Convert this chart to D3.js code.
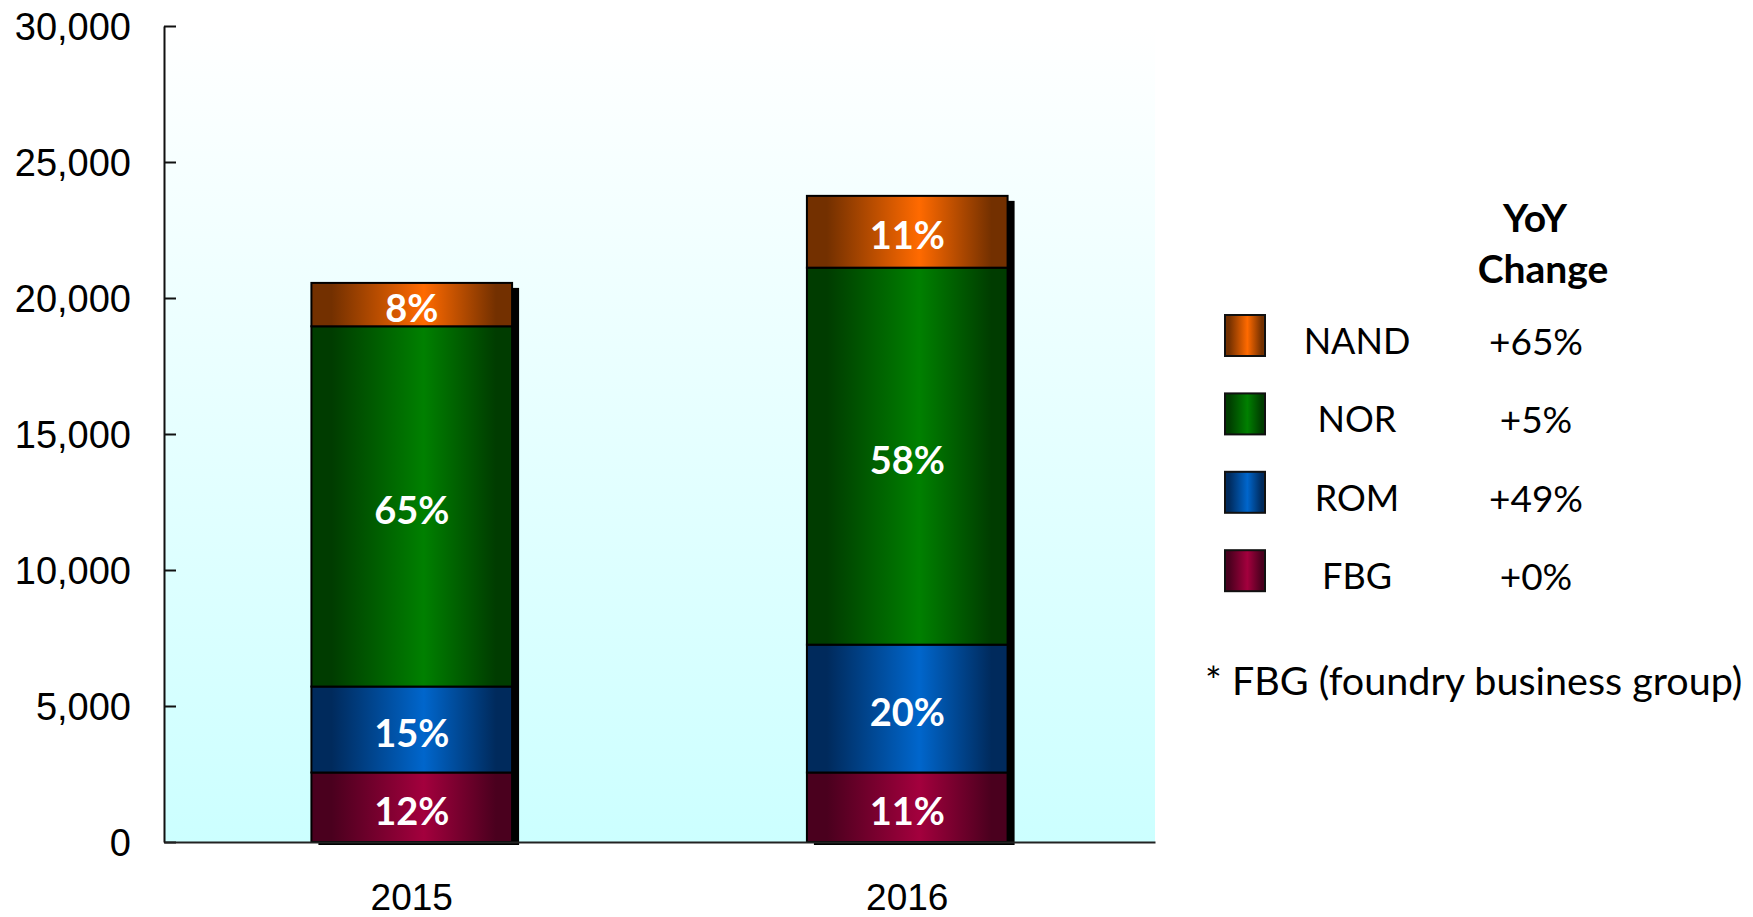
<!DOCTYPE html>
<html>
<head>
<meta charset="utf-8">
<script src="https://cdn.jsdelivr.net/npm/d3@7"></script>
<style>
  body { margin: 0; background: #fff; }
  svg { display: block; }
</style>
</head>
<body>
<svg></svg>
<script>
const width = 1753;
const height = 917;

const years = ["2015", "2016"];
const segments = ["FBG", "ROM", "NOR", "NAND"];
const fbg = [2555, 2555];
const rom = [3160, 4700];
const nor = [13245, 13860];
const nand = [1595, 2640];
const shareLabels = [
  ["12%", "15%", "65%", "8%"],
  ["11%", "20%", "58%", "11%"],
];
const yoyChange = ["+0%", "+49%", "+5%", "+65%"];
const yTicks = [0, 5000, 10000, 15000, 20000, 25000, 30000];

const colors = {
  FBG: ["#4a001e", "#a3003d"],
  ROM: ["#002a5c", "#0066cc"],
  NOR: ["#003c00", "#008000"],
  NAND: ["#733000", "#ff6a00"],
};

const svg = d3.select("svg").attr("width", width).attr("height", height);

const plot = { left: 164, right: 1155, top: 26, bottom: 842 };

const rows = years.map((y, i) => ({
  year: y,
  FBG: fbg[i],
  ROM: rom[i],
  NOR: nor[i],
  NAND: nand[i],
}));

const stacked = d3.stack().keys(segments)(rows);

const xScale = d3
  .scaleBand()
  .domain(years)
  .range([plot.left, plot.right])
  .paddingInner(0.595)
  .paddingOuter(0.2975);

const yScale = d3
  .scaleLinear()
  .domain([0, 30000])
  .range([plot.bottom, plot.top]);

// gradients
const defs = svg.append("defs");

const bg = defs
  .append("linearGradient")
  .attr("id", "bg")
  .attr("x1", 0).attr("y1", 0).attr("x2", 0).attr("y2", 1);
bg.append("stop").attr("offset", 0).attr("stop-color", "#ffffff");
bg.append("stop").attr("offset", 1).attr("stop-color", "#ccffff");

segments.forEach((k) => {
  const g = defs
    .append("linearGradient")
    .attr("id", "grad-" + k)
    .attr("x1", 0).attr("y1", 0).attr("x2", 1).attr("y2", 0);
  g.append("stop").attr("offset", 0).attr("stop-color", colors[k][0]);
  g.append("stop").attr("offset", 0.1).attr("stop-color", colors[k][0]);
  g.append("stop").attr("offset", 0.56).attr("stop-color", colors[k][1]);
  g.append("stop").attr("offset", 0.92).attr("stop-color", colors[k][0]);
  g.append("stop").attr("offset", 1).attr("stop-color", colors[k][0]);
});

// plot background
svg
  .append("rect")
  .attr("x", plot.left)
  .attr("y", plot.top)
  .attr("width", plot.right - plot.left)
  .attr("height", plot.bottom - plot.top)
  .attr("fill", "url(#bg)");

// shadows
const total = (d) => d.FBG + d.ROM + d.NOR + d.NAND;
svg
  .selectAll("rect.shadow")
  .data(rows)
  .enter()
  .append("rect")
  .attr("class", "shadow")
  .attr("x", (d) => xScale(d.year) + 7)
  .attr("y", (d) => yScale(total(d)) + 5)
  .attr("width", xScale.bandwidth())
  .attr("height", (d) => plot.bottom + 3 - yScale(total(d)) - 5)
  .attr("fill", "#000");

// bars
const layers = svg
  .selectAll("g.layer")
  .data(stacked)
  .enter()
  .append("g")
  .attr("class", "layer")
  .attr("fill", (d) => `url(#grad-${d.key})`);

layers
  .selectAll("rect")
  .data((d) => d)
  .enter()
  .append("rect")
  .attr("x", (d) => xScale(d.data.year))
  .attr("y", (d) => yScale(d[1]))
  .attr("width", xScale.bandwidth())
  .attr("height", (d) => yScale(d[0]) - yScale(d[1]))
  .attr("stroke", "#000")
  .attr("stroke-width", 2);

// share labels
stacked.forEach((layer, si) => {
  svg
    .selectAll(null)
    .data(layer)
    .enter()
    .append("text")
    .attr("x", (d) => xScale(d.data.year) + xScale.bandwidth() / 2)
    .attr("y", (d) => (yScale(d[0]) + yScale(d[1])) / 2 + 4)
    .attr("dy", "0.36em")
    .attr("text-anchor", "middle")
    .attr("fill", "#fff")
    .style("font-family", "Lato, sans-serif")
    .style("font-weight", "bold")
    .style("font-size", "38px")
    .text((d, i) => shareLabels[i][si]);
});

// axes
const yAxis = d3
  .axisLeft(yScale)
  .tickValues(yTicks)
  .tickFormat(d3.format(","))
  .tickSizeInner(-12)
  .tickSizeOuter(0)
  .tickPadding(33);

const yg = svg
  .append("g")
  .attr("id", "y-axis")
  .attr("transform", `translate(${plot.left}, 0)`)
  .call(yAxis);
yg.selectAll("path, line").attr("stroke", "#111").attr("stroke-width", 2);
yg.selectAll("text")
  .attr("fill", "#000")
  .attr("dy", "0.36em")
  .style("font-family", "'Liberation Sans', Arial, sans-serif")
  .style("font-size", "38px");

const xAxis = d3.axisBottom(xScale).tickSize(0).tickPadding(42);
const xg = svg
  .append("g")
  .attr("id", "x-axis")
  .attr("transform", `translate(0, ${plot.bottom})`)
  .call(xAxis);
xg.select("path").attr("stroke", "#222").attr("stroke-width", 2);
xg.selectAll("text")
  .attr("fill", "#000")
  .style("font-family", "'Liberation Sans', Arial, sans-serif")
  .style("font-size", "37px");

// legend
const legendKeys = segments.slice().reverse();
const legendChanges = yoyChange.slice().reverse();
const legendY = d3
  .scaleBand()
  .domain(legendKeys)
  .range([315, 315 + 78.4 * 4]);

const legend = svg.append("g").style("font-family", "Lato, sans-serif");

legend
  .append("text")
  .attr("x", 1535)
  .attr("y", 232)
  .attr("text-anchor", "middle")
  .style("font-weight", "bold")
  .style("font-size", "39px")
  .text("YoY");
legend
  .append("text")
  .attr("x", 1543)
  .attr("y", 283)
  .attr("text-anchor", "middle")
  .style("font-weight", "bold")
  .style("font-size", "39px")
  .text("Change");

legend
  .selectAll("rect")
  .data(legendKeys)
  .enter()
  .append("rect")
  .attr("x", 1225)
  .attr("y", (d) => legendY(d))
  .attr("width", 40)
  .attr("height", 41)
  .attr("fill", (d) => `url(#grad-${d})`)
  .attr("stroke", "#111")
  .attr("stroke-width", 2);

legend
  .selectAll("text.name")
  .data(legendKeys)
  .enter()
  .append("text")
  .attr("class", "name")
  .attr("x", 1357)
  .attr("y", (d) => legendY(d) + 39)
  .attr("text-anchor", "middle")
  .style("font-size", "36px")
  .text((d) => d);

legend
  .selectAll("text.change")
  .data(legendKeys)
  .enter()
  .append("text")
  .attr("class", "change")
  .attr("x", 1536)
  .attr("y", (d) => legendY(d) + 40)
  .attr("text-anchor", "middle")
  .style("font-size", "37px")
  .text((d, i) => legendChanges[i]);

legend
  .append("text")
  .attr("x", 1205)
  .attr("y", 695)
  .style("font-size", "39.5px")
  .text("* FBG (foundry business group)");
</script>
</body>
</html>
